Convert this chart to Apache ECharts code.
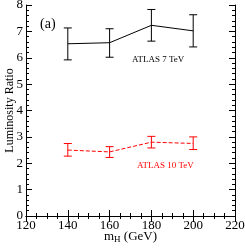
<!DOCTYPE html>
<html><head><meta charset="utf-8">
<script src="https://cdn.jsdelivr.net/npm/echarts@6/dist/echarts.min.js"></script>
<style>html,body{margin:0;padding:0;background:#fff}#c{width:245px;height:248px}</style>
</head><body><div id="c"></div>
<script>
var masses = [140, 160, 180, 200];
var atlas7 = [6.53, 6.57, 7.23, 7.02];
var atlas7Hi = [7.13, 7.10, 7.83, 7.63];
var atlas7Lo = [5.92, 6.02, 6.63, 6.41];
var atlas10 = [2.50, 2.43, 2.80, 2.75];
var atlas10Hi = [2.75, 2.63, 3.02, 3.00];
var atlas10Lo = [2.27, 2.22, 2.58, 2.52];

var F = 'Liberation Serif';
function pairs(xs, ys){ return xs.map(function(x,i){return [x, ys[i]];}); }
function errData(xs, lo, hi){ return xs.map(function(x,i){return [x, lo[i], hi[i]];}); }
function errRender(color){
  return function(params, api){
    var x = api.value(0), lo = api.value(1), hi = api.value(2);
    var pl = api.coord([x, lo]), ph = api.coord([x, hi]);
    var w = 4;
    var st = {stroke: color, lineWidth: 1};
    return {type:'group', children:[
      {type:'line', shape:{x1:pl[0],y1:pl[1],x2:ph[0],y2:ph[1]}, style:st},
      {type:'line', shape:{x1:pl[0]-w,y1:pl[1],x2:pl[0]+w,y2:pl[1]}, style:st},
      {type:'line', shape:{x1:ph[0]-w,y1:ph[1],x2:ph[0]+w,y2:ph[1]}, style:st}
    ]};
  };
}
var axLine = {show:true, lineStyle:{color:'#000', width:1}};
var chart = echarts.init(document.getElementById('c'), null, {renderer:'canvas'});
chart.setOption({
  animation:false,
  grid:{left:26, right:10, top:5, bottom:32, containLabel:false, outerBoundsMode:'none'},
  xAxis:[
    {type:'value', min:120, max:220, interval:20, position:'bottom',
     axisLine:axLine, axisTick:{inside:true, length:6, lineStyle:{color:'#000'}},
     minorTick:{show:true, splitNumber:4, length:3, lineStyle:{color:'#000'}},
     splitLine:{show:false},
     axisLabel:{color:'#000', fontFamily:F, fontSize:13, margin:3},
     name:'{m|m}{s|H}{m| (GeV)}', nameLocation:'middle', nameGap:14, nameMoveOverlap:false,
     nameTextStyle:{verticalAlign:'top', rich:{m:{fontFamily:F, fontSize:13, color:'#000', lineHeight:14}, s:{fontFamily:F, fontSize:9, color:'#000', lineHeight:14, padding:[6,0,0,0]}}}},
    {type:'value', min:120, max:220, interval:20, position:'top',
     axisLine:axLine, axisTick:{inside:true, length:6, lineStyle:{color:'#000'}},
     minorTick:{show:true, splitNumber:4, length:3, lineStyle:{color:'#000'}},
     splitLine:{show:false}, axisLabel:{show:false}}
  ],
  yAxis:[
    {type:'value', min:0, max:8, interval:1, position:'left',
     axisLine:axLine, axisTick:{inside:true, length:6, lineStyle:{color:'#000'}},
     minorTick:{show:true, splitNumber:5, length:3, lineStyle:{color:'#000'}},
     splitLine:{show:false},
     axisLabel:{color:'#000', fontFamily:F, fontSize:13, margin:3},
     name:'Luminosity Ratio', nameLocation:'middle', nameGap:10, nameMoveOverlap:false,
     nameTextStyle:{fontFamily:F, fontSize:12, color:'#000'}},
    {type:'value', min:0, max:8, interval:1, position:'right',
     axisLine:axLine, axisTick:{inside:true, length:6, lineStyle:{color:'#000'}},
     minorTick:{show:true, splitNumber:5, length:3, lineStyle:{color:'#000'}},
     splitLine:{show:false}, axisLabel:{show:false}}
  ],
  series:[
    {type:'line', data:pairs(masses, atlas7), symbol:'none', lineStyle:{color:'#000', width:1}},
    {type:'custom', data:errData(masses, atlas7Lo, atlas7Hi), renderItem:errRender('#000'), encode:{x:0, y:[1,2]}},
    {type:'line', data:pairs(masses, atlas10), symbol:'none', lineStyle:{color:'#ff0000', width:1, type:[4,2]}},
    {type:'custom', data:errData(masses, atlas10Lo, atlas10Hi), renderItem:errRender('#ff0000'), encode:{x:0, y:[1,2]}}
  ],
  graphic:[
    {type:'text', left:40, top:17, style:{text:'(a)', font:'14px "Liberation Serif"', fill:'#000'}},
    {type:'text', left:132, top:55, style:{text:'ATLAS 7 TeV', font:'9px "Liberation Serif"', fill:'#000'}},
    {type:'text', left:137, top:161, style:{text:'ATLAS 10 TeV', font:'9px "Liberation Serif"', fill:'#ff0000'}}
  ]
});
</script></body></html>
